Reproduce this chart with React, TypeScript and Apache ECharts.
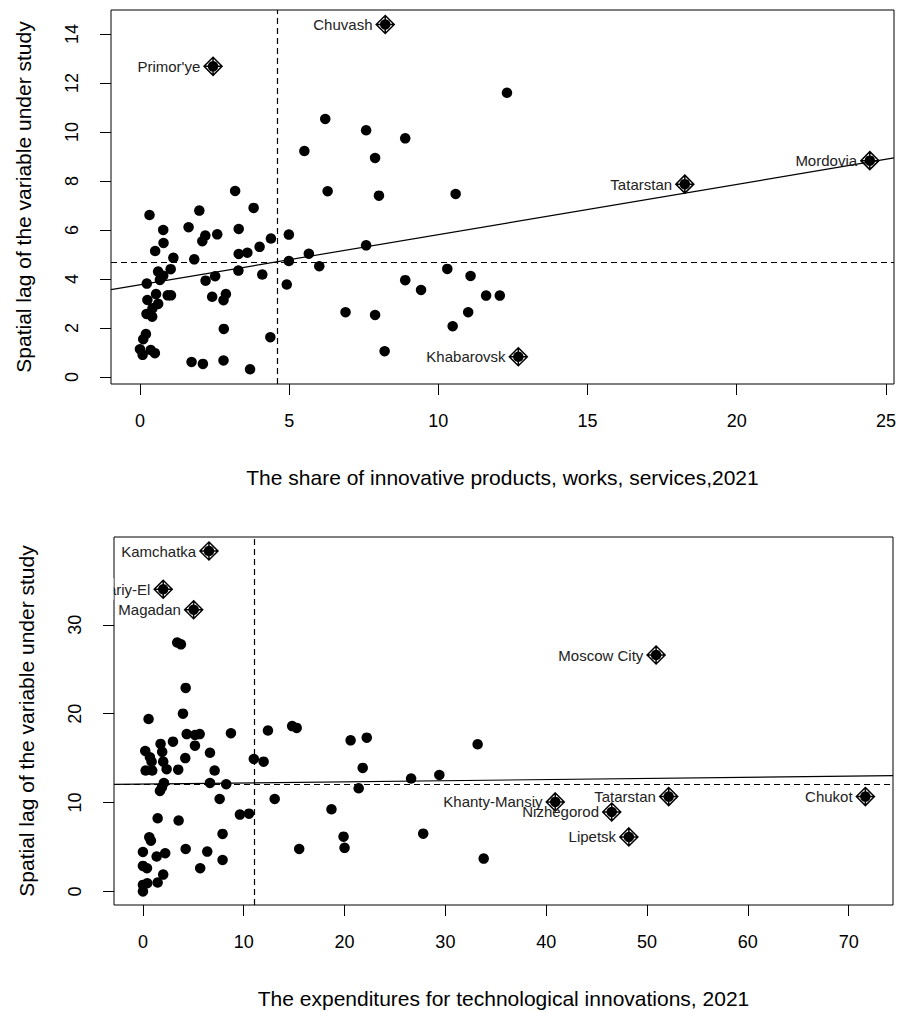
import React, { useEffect, useRef } from "react";
import * as echarts from "echarts";

// ---------- Top panel: share of innovative products ----------
const topDots: [number, number][] = [
  [5.51, 9.22], [3.19, 7.59], [0.32, 6.61], [1.99, 6.79], [3.81, 6.9], [0.78, 6.0],
  [1.63, 6.11], [3.31, 6.04], [2.19, 5.77], [2.09, 5.54], [2.59, 5.82], [0.79, 5.47],
  [0.51, 5.14], [4.99, 5.81], [4.39, 5.65], [4.01, 5.31], [3.31, 5.02], [3.6, 5.07],
  [1.12, 4.86], [1.82, 4.8], [4.99, 4.73], [5.66, 5.03], [0.61, 4.3], [0.78, 4.13],
  [1.03, 4.4], [0.67, 3.96], [3.3, 4.34], [4.1, 4.18], [2.52, 4.11], [2.2, 3.93],
  [0.23, 3.81], [4.92, 3.77], [0.54, 3.38], [0.93, 3.33], [1.04, 3.33], [0.25, 3.14],
  [2.42, 3.27], [2.88, 3.38], [2.8, 3.13], [0.61, 2.98], [0.42, 2.8], [0.22, 2.57],
  [0.41, 2.46], [2.81, 1.96], [0.2, 1.75], [0.11, 1.54], [4.37, 1.62], [0.0, 1.13],
  [0.09, 0.9], [0.36, 1.1], [0.5, 0.97], [1.73, 0.61], [2.11, 0.53], [2.8, 0.67],
  [3.69, 0.31],
  [12.3, 11.6], [6.21, 10.53], [7.58, 10.07], [8.89, 9.74], [7.88, 8.94], [6.29, 7.58],
  [8.01, 7.4], [10.58, 7.47], [7.58, 5.37], [6.01, 4.52], [10.3, 4.41], [11.08, 4.12],
  [8.89, 3.95], [9.42, 3.55], [11.6, 3.32], [12.06, 3.32], [6.89, 2.64], [7.88, 2.53],
  [11.0, 2.64], [10.48, 2.07], [8.2, 1.05],
];
const topLabelNames = ["Primor'ye", "Chuvash", "Tatarstan", "Mordovia", "Khabarovsk"];
const topLabelX = [2.45, 8.22, 18.26, 24.46, 12.68];
const topLabelY = [12.68, 14.39, 7.87, 8.83, 0.82];
const topXTicks = [0, 5, 10, 15, 20, 25];
const topYTicks = [0, 2, 4, 6, 8, 10, 12, 14];
const topMeanX = 4.59;
const topMeanY = 4.69;
const topSlope = 0.205;
const topIntercept = 3.76;
const topXTitle = "The share of innovative products, works, services,2021";

// ---------- Bottom panel: expenditures for technological innovations ----------
const bottomDots: [number, number][] = [
  [3.4, 28.0], [3.77, 27.8], [4.24, 22.9], [3.97, 20.0], [0.56, 19.4], [14.8, 18.6],
  [15.25, 18.4], [4.34, 17.7], [5.16, 17.6], [5.63, 17.7], [8.73, 17.8], [12.4, 18.1],
  [2.98, 16.85], [1.75, 16.6], [0.23, 15.8], [1.91, 15.7], [5.16, 16.4], [6.65, 15.6],
  [0.69, 15.1], [0.86, 14.6], [2.01, 14.6], [4.2, 15.0], [11.0, 14.9], [11.97, 14.6],
  [0.27, 13.6], [0.92, 13.6], [2.35, 13.75], [3.5, 13.7], [7.11, 13.6], [2.08, 12.2],
  [1.88, 11.7], [1.69, 11.3], [6.65, 12.2], [8.26, 12.06], [7.61, 10.4], [13.07, 10.4],
  [9.62, 8.64], [10.52, 8.75], [1.46, 8.23], [3.54, 7.97], [7.9, 6.47], [0.63, 6.1],
  [0.79, 5.7], [15.5, 4.78], [4.24, 4.78], [6.38, 4.48], [0.0, 4.44], [2.21, 4.3],
  [1.36, 3.92], [7.9, 3.54], [0.0, 2.87], [0.4, 2.61], [5.68, 2.61], [2.01, 1.89],
  [0.0, 0.73], [0.43, 0.92], [0.0, 0.0], [1.46, 1.0],
  [20.6, 17.0], [22.2, 17.3], [33.2, 16.55], [21.8, 13.9], [26.6, 12.7], [29.4, 13.1],
  [21.4, 11.6], [18.7, 9.24], [19.9, 6.16], [27.8, 6.5], [20.0, 4.9], [33.8, 3.69],
];
const bottomLabelNames = [
  "Kamchatka", "Mariy-El", "Magadan", "Moscow City", "Khanty-Mansiy",
  "Tatarstan", "Nizhegorod", "Lipetsk", "Chukot",
];
const bottomLabelX = [6.55, 2.01, 5.03, 50.9, 40.9, 52.15, 46.5, 48.2, 71.66];
const bottomLabelY = [38.3, 34.0, 31.7, 26.6, 10.07, 10.67, 8.94, 6.13, 10.67];
const bottomXTicks = [0, 10, 20, 30, 40, 50, 60, 70];
const bottomYTicks = [0, 10, 20, 30];
const bottomMeanX = 11.0;
const bottomMeanY = 12.06;
const bottomSlope = 0.0128;
const bottomIntercept = 12.07;
const bottomXTitle = "The expenditures for technological innovations, 2021";

const yTitle = "Spatial lag of the variable under study";

const FONT = "'Liberation Sans', Arial, sans-serif";
const DIAMOND =
  "path://M9,0 L18,9 L9,18 L0,9 Z M9,0 L9,18 M0,9 L18,9";

function xAxisCfg(gridIndex: number, min: number, max: number, ticks: number[], name: string) {
  return {
    type: "value",
    gridIndex,
    min,
    max,
    name,
    nameLocation: "middle",
    nameGap: 83,
    nameTextStyle: { fontFamily: FONT, fontSize: 21, color: "#000" },
    axisLine: { show: false, onZero: false },
    splitLine: { show: false },
    axisTick: {
      show: true,
      inside: false,
      length: 11,
      customValues: ticks,
      lineStyle: { color: "#000", width: 1 },
    },
    axisLabel: {
      show: true,
      margin: 28,
      customValues: ticks,
      fontFamily: FONT,
      fontSize: 18,
      color: "#000",
    },
  };
}

function yAxisCfg(gridIndex: number, min: number, max: number, ticks: number[]) {
  return {
    type: "value",
    gridIndex,
    min,
    max,
    name: yTitle,
    nameLocation: "middle",
    nameRotate: 90,
    nameGap: 77,
    nameTextStyle: { fontFamily: FONT, fontSize: 21, color: "#000" },
    axisLine: { show: false, onZero: false },
    splitLine: { show: false },
    axisTick: {
      show: true,
      inside: false,
      length: 11,
      customValues: ticks,
      lineStyle: { color: "#000", width: 1 },
    },
    axisLabel: {
      show: true,
      rotate: 90,
      margin: 30,
      customValues: ticks,
      fontFamily: FONT,
      fontSize: 18,
      color: "#000",
    },
  };
}

function panelSeries(
  idx: number,
  dots: [number, number][],
  names: string[],
  lx: number[],
  ly: number[],
  meanX: number,
  meanY: number,
  slope: number,
  intercept: number,
  xMin: number,
  xMax: number
) {
  const labeled = names.map((n, i) => ({ name: n, value: [lx[i], ly[i]] }));
  return [
    {
      type: "scatter",
      xAxisIndex: idx,
      yAxisIndex: idx,
      symbol: "circle",
      symbolSize: 10.5,
      itemStyle: { color: "#000", opacity: 1 },
      data: [...dots, ...names.map((_, i) => [lx[i], ly[i]])],
      silent: true,
      z: 3,
    },
    {
      type: "line",
      xAxisIndex: idx,
      yAxisIndex: idx,
      showSymbol: false,
      symbol: "none",
      silent: true,
      lineStyle: { color: "#000", width: 1.2 },
      data: [
        [xMin, intercept + slope * xMin],
        [xMax, intercept + slope * xMax],
      ],
      markLine: {
        symbol: "none",
        silent: true,
        label: { show: false },
        lineStyle: { color: "#000", width: 1.2, type: [6, 4] },
        data: [{ xAxis: meanX }, { yAxis: meanY }],
      },
      z: 4,
    },
    {
      type: "scatter",
      xAxisIndex: idx,
      yAxisIndex: idx,
      symbol: DIAMOND,
      symbolSize: 18,
      silent: true,
      itemStyle: { color: "rgba(0,0,0,0)", borderColor: "#000", borderWidth: 1.5, opacity: 1 },
      label: {
        show: true,
        position: "left",
        distance: 3,
        formatter: "{b}",
        fontFamily: FONT,
        fontSize: 15,
        color: "#222",
      },
      data: labeled,
      z: 5,
    },
  ];
}

export default function App() {
  const ref = useRef<HTMLDivElement>(null);
  useEffect(() => {
    if (!ref.current) return;
    const chart = echarts.init(ref.current, undefined, { renderer: "svg" });
    const tXMin = -0.97, tXMax = 25.27, tYMin = -0.29, tYMax = 14.98;
    const bXMin = -2.87, bXMax = 74.4, bYMin = -1.53, bYMax = 39.88;
    chart.setOption({
      animation: false,
      backgroundColor: "#fff",
      grid: [
        { left: 111, top: 10, width: 783, height: 374, show: true, borderColor: "#000", borderWidth: 1, backgroundColor: "transparent" },
        { left: 114, top: 537, width: 779, height: 368, show: true, borderColor: "#000", borderWidth: 1, backgroundColor: "transparent" },
      ],
      xAxis: [
        xAxisCfg(0, tXMin, tXMax, topXTicks, topXTitle),
        xAxisCfg(1, bXMin, bXMax, bottomXTicks, bottomXTitle),
      ],
      yAxis: [
        yAxisCfg(0, tYMin, tYMax, topYTicks),
        yAxisCfg(1, bYMin, bYMax, bottomYTicks),
      ],
      series: [
        ...panelSeries(0, topDots, topLabelNames, topLabelX, topLabelY, topMeanX, topMeanY, topSlope, topIntercept, tXMin, tXMax),
        ...panelSeries(1, bottomDots, bottomLabelNames, bottomLabelX, bottomLabelY, bottomMeanX, bottomMeanY, bottomSlope, bottomIntercept, bXMin, bXMax),
      ],
      graphic: [
        {
          type: "rect",
          z: 100,
          silent: true,
          shape: { x: 60, y: 578, width: 53.5, height: 22 },
          style: { fill: "#fff" },
        },
      ],
    });
    return () => chart.dispose();
  }, []);
  return (
    <div
      ref={ref}
      style={{ position: "absolute", left: 0, top: 0, width: 901, height: 1012, background: "#fff" }}
    />
  );
}
